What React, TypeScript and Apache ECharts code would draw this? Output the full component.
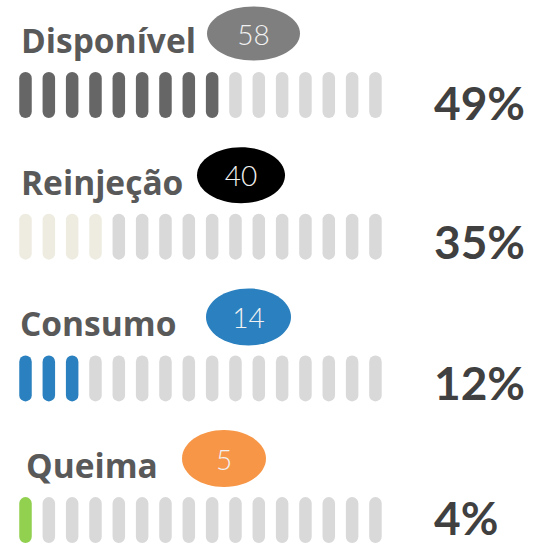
import React, { useEffect, useRef } from "react";
import * as echarts from "echarts";

const categories = ["Disponível", "Reinjeção", "Consumo", "Queima"];
const values = [58, 40, 14, 5];
const percentLabels = ["49%", "35%", "12%", "4%"];
const filledCounts = [9, 4, 3, 1];
const slotCount = 16;
const fillColors = ["#666666", "#eeece1", "#2b80bf", "#92d050"];
const badgeColors = ["#7f7f7f", "#000000", "#2b80bf", "#f79646"];
const emptyColor = "#d9d9d9";

// layout
const rowTop0 = 72;
const rowStep = 141.7;
const barH = 46;
const pitch = 23.33;
const firstCenter = 25.5;
const titleX = [21, 21, 20, 26];
const badgeCX = [253.5, 241, 248.5, 224];
const badgeRX = [46.5, 44, 42.5, 42];
const badgeRY = [27, 28, 28.5, 28.5];
const pctDY = [7.5, 4.5, 4.5, -3];

export default function App() {
  const ref = useRef<HTMLDivElement>(null);
  useEffect(() => {
    if (!ref.current) return;
    const chart = echarts.init(ref.current, null, { renderer: "svg" });
    const grids: any[] = [];
    const xAxes: any[] = [];
    const yAxes: any[] = [];
    const series: any[] = [];
    const graphics: any[] = [];
    const slots = Array.from({ length: slotCount }, (_, i) => String(i + 1));
    categories.forEach((name, r) => {
      const top = rowTop0 + r * rowStep;
      grids.push({
        left: firstCenter - pitch / 2,
        top,
        width: pitch * slotCount,
        height: barH,
      });
      xAxes.push({ type: "category", gridIndex: r, data: slots, show: false });
      yAxes.push({ type: "value", gridIndex: r, min: 0, max: 1, show: false });
      series.push({
        type: "bar",
        xAxisIndex: r,
        yAxisIndex: r,
        barWidth: 12.5,
        silent: true,
        data: slots.map((_, i) => ({
          value: 1,
          itemStyle: {
            color: i < filledCounts[r] ? fillColors[r] : emptyColor,
            borderRadius: 6.25,
          },
        })),
      });
      const baseline = top - 19.5;
      graphics.push({
        type: "text",
        x: titleX[r],
        y: baseline - 12.5,
        style: {
          text: name,
          fill: "#595959",
          font: "bold 33.5px 'Open Sans', Lato, sans-serif",
          verticalAlign: "middle",
          align: "left",
        },
      });
      const cy = top - 38.5;
      graphics.push({
        type: "ellipse",
        shape: { cx: badgeCX[r], cy, rx: badgeRX[r], ry: badgeRY[r] },
        style: { fill: badgeColors[r] },
      });
      graphics.push({
        type: "text",
        x: badgeCX[r],
        y: cy,
        style: {
          text: String(values[r]),
          fill: "#f2f2f2",
          font: "300 28px Lato, 'Open Sans', sans-serif",
          align: "center",
          verticalAlign: "middle",
        },
      });
      graphics.push({
        type: "text",
        x: 434,
        y: top + barH / 2 + pctDY[r],
        style: {
          text: percentLabels[r],
          fill: "#404040",
          font: "bold 46px Lato, 'Open Sans', sans-serif",
          align: "left",
          verticalAlign: "middle",
        },
      });
    });
    chart.setOption({
      animation: false,
      grid: grids,
      xAxis: xAxes,
      yAxis: yAxes,
      series,
      graphic: graphics,
    });
    return () => chart.dispose();
  }, []);
  return <div ref={ref} style={{ width: 533, height: 544, position: "absolute", left: 0, top: 0 }} />;
}
